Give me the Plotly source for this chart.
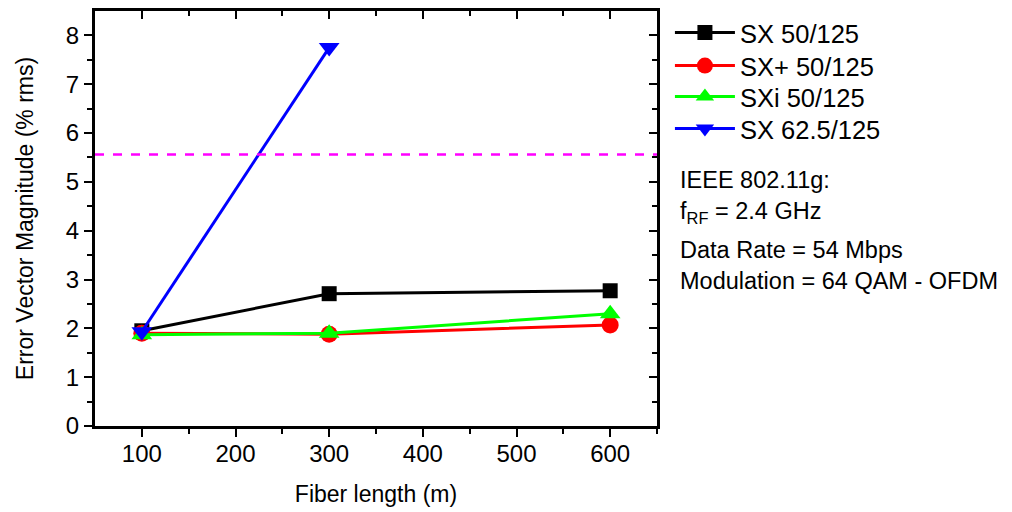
import plotly.graph_objects as go

fiber_length = [100, 300, 600]
sx_50 = [1.95, 2.71, 2.77]
sxplus_50 = [1.90, 1.88, 2.07]
sxi_50 = [1.87, 1.90, 2.30]
sx_625_x = [100, 300]
sx_625 = [1.93, 7.75]
evm_limit = 5.56

series = [
    ("SX 50/125", fiber_length, sx_50, "black", "square", 15),
    ("SX+ 50/125", fiber_length, sxplus_50, "red", "circle", 17),
    ("SXi 50/125", fiber_length, sxi_50, "#00ff00", "triangle-up", 18),
    ("SX 62.5/125", sx_625_x, sx_625, "blue", "triangle-down", 18),
]
legend_ids = ["legend", "legend2", "legend3", "legend4"]
legend_y = [0.9447, 0.8654, 0.7909, 0.7139]

FONT = "Liberation Sans, Arial, sans-serif"
fig = go.Figure()
for (name, xs, ys, col, sym, sz), lid in zip(series, legend_ids):
    fig.add_trace(go.Scatter(
        x=xs, y=ys, name=name, mode="lines+markers", legend=lid,
        line=dict(color=col, width=3),
        marker=dict(symbol=sym, size=sz, color=col, line=dict(width=0)),
    ))

fig.add_shape(type="line", xref="paper", yref="y", x0=0, x1=1, y0=evm_limit, y1=evm_limit,
              line=dict(color="#ff00ff", width=2.5, dash="dash"))

notes = ["IEEE 802.11g:", "f<sub>RF</sub> = 2.4 GHz", "Data Rate = 54 Mbps", "Modulation = 64 QAM - OFDM"]
note_y = [0.592, 0.514, 0.424, 0.350]
for t, yy in zip(notes, note_y):
    fig.add_annotation(text=t, xref="paper", yref="paper", x=1.038, y=yy,
                       xanchor="left", yanchor="middle", showarrow=False,
                       font=dict(family=FONT, size=23.5, color="black"))

axis_common = dict(showline=True, linecolor="black", linewidth=3, showgrid=False, zeroline=False,
                   tickcolor="black", tickwidth=2, ticklen=8, automargin=False,
                   tickfont=dict(family=FONT, size=24, color="black"))

legend_layout = {}
for lid, ly in zip(legend_ids, legend_y):
    legend_layout[lid] = dict(x=1.023, y=ly, xanchor="left", yanchor="middle",
                              font=dict(family=FONT, size=25.5, color="black"),
                              bgcolor="rgba(0,0,0,0)", itemwidth=60)

# page is rendered with an 8px body margin, size and margins compensate for it
fig.update_layout(
    width=1004, height=504,
    margin=dict(l=87, r=355, t=2, b=86),
    paper_bgcolor="white", plot_bgcolor="white",
    font=dict(family=FONT, color="black"),
    showlegend=True,
    **legend_layout,
    xaxis=dict(range=[50, 650], tickvals=[100, 200, 300, 400, 500, 600], ticks="outside",
               ticklabelstandoff=-4,
               minor=dict(tickvals=[150, 250, 350, 450, 550, 650], ticks="outside", ticklen=5, tickcolor="black", tickwidth=2),
               title=dict(text="Fiber length (m)", font=dict(family=FONT, size=23, color="black"), standoff=21),
               **axis_common),
    yaxis=dict(range=[0, 8.5], tickvals=[0, 1, 2, 3, 4, 5, 6, 7, 8], ticks="outside",
               minor=dict(tickvals=[0.5, 1.5, 2.5, 3.5, 4.5, 5.5, 6.5, 7.5], ticks="outside", ticklen=5, tickcolor="black", tickwidth=2),
               title=dict(text="Error Vector Magnitude (% rms)", font=dict(family=FONT, size=23, color="black"), standoff=26),
               **axis_common),
    xaxis2=dict(overlaying="x", side="top", matches="x", range=[50, 650], showticklabels=False,
                tickvals=[100, 200, 300, 400, 500, 600], ticks="inside", automargin=False,
                minor=dict(tickvals=[150, 250, 350, 450, 550], ticks="inside", ticklen=5, tickcolor="black", tickwidth=2),
                showline=True, linecolor="black", linewidth=3, showgrid=False, zeroline=False,
                tickcolor="black", tickwidth=2, ticklen=8),
    yaxis2=dict(overlaying="y", side="right", matches="y", range=[0, 8.5], showticklabels=False,
                tickvals=[0, 1, 2, 3, 4, 5, 6, 7, 8], ticks="inside", automargin=False,
                minor=dict(tickvals=[0.5, 1.5, 2.5, 3.5, 4.5, 5.5, 6.5, 7.5], ticks="inside", ticklen=5, tickcolor="black", tickwidth=2),
                showline=True, linecolor="black", linewidth=3, showgrid=False, zeroline=False,
                tickcolor="black", tickwidth=2, ticklen=8),
)
# invisible helper trace to activate the mirrored axes
fig.add_trace(go.Scatter(x=[fiber_length[0]], y=[sx_50[0]], xaxis="x2", yaxis="y2", mode="markers",
                         marker=dict(opacity=0), showlegend=False, hoverinfo="skip"))

fig.write_html("out.html")
